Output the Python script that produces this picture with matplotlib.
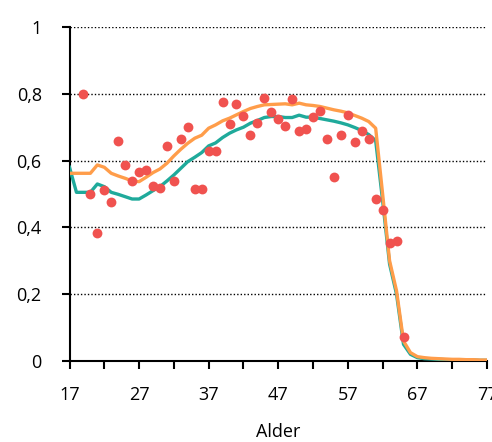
import matplotlib
matplotlib.use("Agg")
import matplotlib.pyplot as plt
from matplotlib.ticker import FixedLocator, FuncFormatter

plt.rcParams['font.family'] = ['Open Sans', 'DejaVu Sans']

# alder for linjene
alder = list(range(17, 78))

teal_verdier = [
    0.580, 0.505, 0.505, 0.505, 0.530, 0.522, 0.505, 0.499, 0.492, 0.485,
    0.485, 0.497, 0.510, 0.522, 0.539, 0.557, 0.577, 0.597, 0.610, 0.624,
    0.644, 0.653, 0.669, 0.682, 0.692, 0.700, 0.712, 0.720, 0.729, 0.732,
    0.732, 0.729, 0.729, 0.736, 0.730, 0.730, 0.726, 0.722, 0.718, 0.713,
    0.707, 0.699, 0.690, 0.678, 0.660, 0.480, 0.290, 0.200, 0.050, 0.020,
    0.010, 0.007, 0.006, 0.005, 0.004, 0.004, 0.003, 0.003, 0.003, 0.002,
    0.002,
]

orange_verdier = [
    0.562, 0.562, 0.562, 0.562, 0.587, 0.580, 0.562, 0.554, 0.547, 0.539,
    0.537, 0.550, 0.564, 0.575, 0.592, 0.614, 0.634, 0.652, 0.667, 0.676,
    0.697, 0.707, 0.719, 0.727, 0.737, 0.747, 0.756, 0.762, 0.767, 0.768,
    0.769, 0.770, 0.767, 0.772, 0.767, 0.765, 0.762, 0.757, 0.752, 0.748,
    0.743, 0.735, 0.727, 0.717, 0.697, 0.500, 0.300, 0.210, 0.060, 0.025,
    0.013, 0.010, 0.008, 0.007, 0.006, 0.005, 0.005, 0.004, 0.004, 0.003,
    0.003,
]

# observerte punkter
punkt_alder = list(range(19, 66))
punkt_verdier = [
    0.800, 0.499, 0.384, 0.512, 0.476, 0.659, 0.586, 0.539, 0.565, 0.572,
    0.525, 0.517, 0.644, 0.540, 0.664, 0.701, 0.514, 0.516, 0.630, 0.630,
    0.776, 0.709, 0.768, 0.735, 0.676, 0.714, 0.787, 0.747, 0.725, 0.703,
    0.784, 0.689, 0.694, 0.731, 0.749, 0.665, 0.550, 0.677, 0.738, 0.657,
    0.690, 0.664, 0.484, 0.452, 0.352, 0.358, 0.073,
]

x_etiketter = [17, 27, 37, 47, 57, 67, 77]
x_minor = [22, 32, 42, 52, 62, 72]
y_ticks = [0, 0.2, 0.4, 0.6, 0.8, 1.0]

fig = plt.figure(figsize=(4.92, 4.42), dpi=100)
ax = fig.add_axes([69.5 / 492, 81 / 442, 417.5 / 492, 334 / 442])

for y in y_ticks[1:]:
    ax.axhline(y, color='black', lw=1, linestyle=(0, (1, 1.5)), zorder=1)

ax.plot(alder, teal_verdier, color='#1FAA9B', lw=2.4, zorder=3,
        solid_joinstyle='round')
ax.plot(alder, orange_verdier, color='#FF9D4A', lw=2.4, zorder=4,
        solid_joinstyle='round')
ax.scatter(punkt_alder, punkt_verdier, s=50, color='#F0524F', zorder=5,
           linewidths=0)

ax.set_xlim(17, 77)
ax.set_ylim(0, 1)

ax.xaxis.set_major_locator(FixedLocator(x_etiketter))
ax.xaxis.set_minor_locator(FixedLocator(x_minor))
ax.yaxis.set_major_locator(FixedLocator(y_ticks))
ax.yaxis.set_major_formatter(
    FuncFormatter(lambda v, p: ('%g' % round(v, 1)).replace('.', ',')))

for s in ['top', 'right']:
    ax.spines[s].set_visible(False)
for s in ['left', 'bottom']:
    ax.spines[s].set_linewidth(1.5)

ax.tick_params(axis='x', which='both', direction='out', length=6, width=1.5,
               pad=12, labelsize=13)
ax.tick_params(axis='y', direction='out', length=6, width=1.5, pad=14,
               labelsize=13)

ax.set_xlabel('Alder', fontsize=13, labelpad=14)

fig.savefig('out.png', dpi=100)
